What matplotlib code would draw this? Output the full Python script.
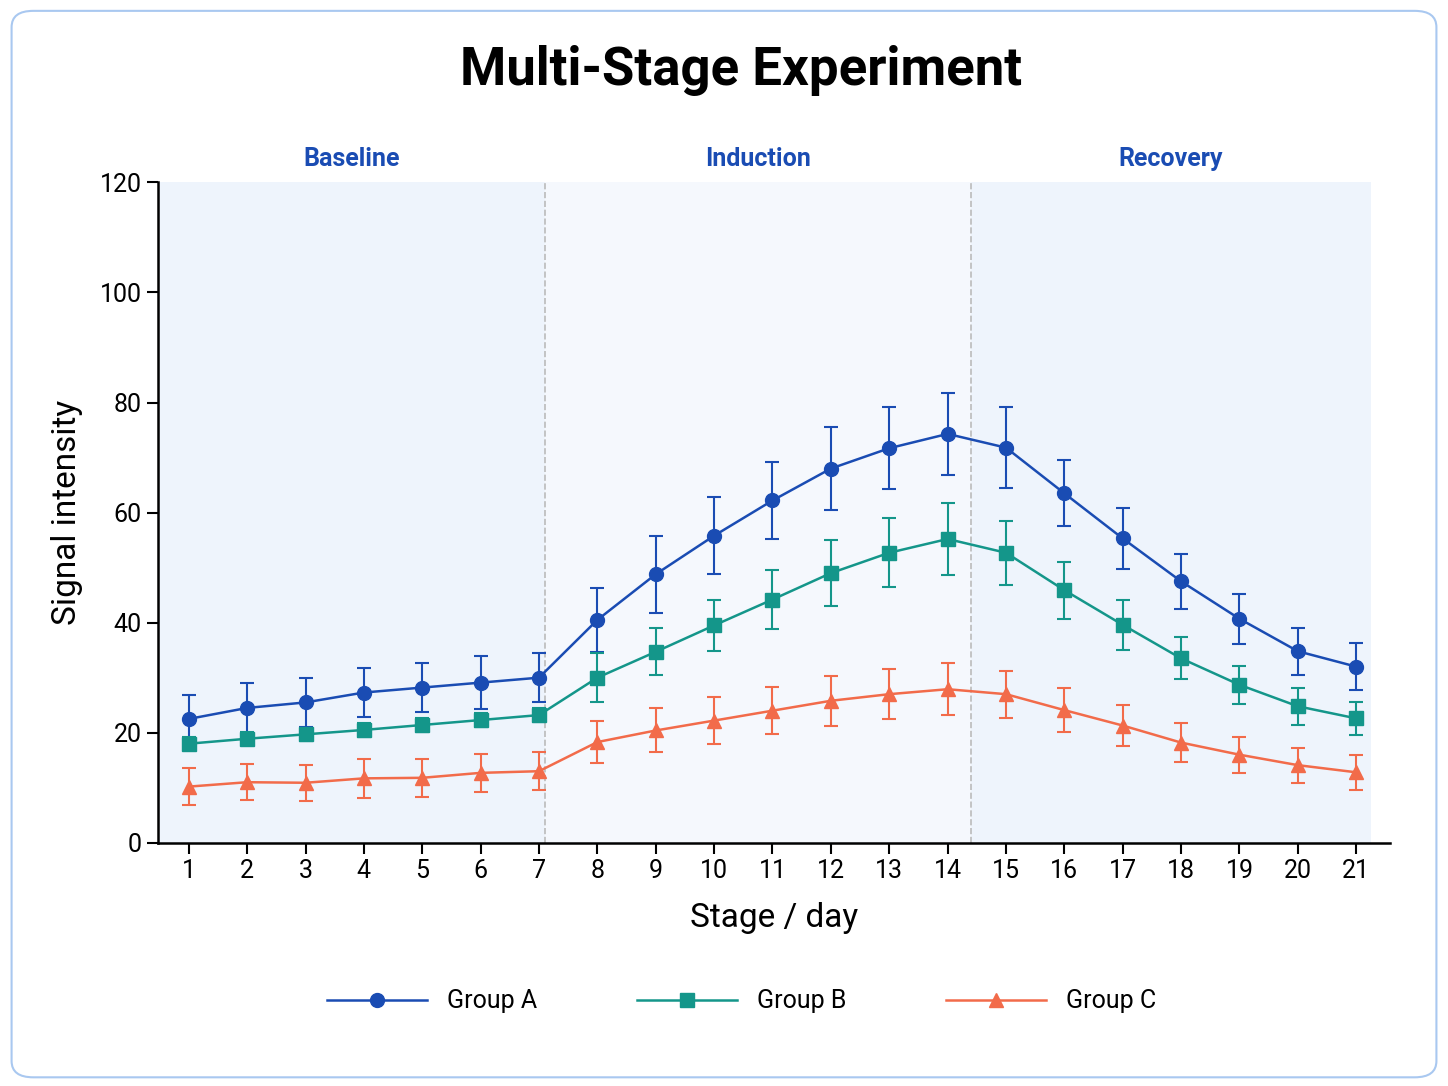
import matplotlib
matplotlib.use("Agg")
import matplotlib.pyplot as plt
from matplotlib.patches import FancyBboxPatch

days = list(range(1, 22))
group_a = [22.5, 24.5, 25.5, 27.3, 28.2, 29.1, 30.0, 40.5, 48.8, 55.8, 62.2, 68.0, 71.7, 74.3,
           71.8, 63.5, 55.3, 47.5, 40.7, 34.8, 32.0]
err_a = [4.3, 4.5, 4.5, 4.5, 4.5, 4.8, 4.5, 5.8, 7.0, 7.0, 7.0, 7.5, 7.5, 7.5,
         7.3, 6.0, 5.5, 5.0, 4.5, 4.3, 4.3]
group_b = [18.0, 18.9, 19.7, 20.5, 21.4, 22.3, 23.2, 30.0, 34.7, 39.5, 44.2, 49.0, 52.7, 55.2,
           52.7, 45.9, 39.6, 33.5, 28.7, 24.8, 22.6]
err_b = [1.2, 1.2, 1.2, 1.2, 1.2, 1.2, 1.2, 4.5, 4.3, 4.7, 5.3, 6.0, 6.3, 6.5,
         5.8, 5.2, 4.5, 3.8, 3.5, 3.4, 3.0]
group_c = [10.2, 11.0, 10.9, 11.7, 11.8, 12.7, 13.0, 18.3, 20.4, 22.2, 24.0, 25.8, 27.0, 27.9,
           27.0, 24.1, 21.3, 18.2, 16.0, 14.1, 12.8]
err_c = [3.3, 3.3, 3.3, 3.5, 3.5, 3.5, 3.5, 3.8, 4.0, 4.2, 4.3, 4.5, 4.5, 4.7,
         4.3, 4.0, 3.8, 3.5, 3.3, 3.2, 3.2]

stages = ["Baseline", "Induction", "Recovery"]
stage_bounds = [0.47, 7.1, 14.4, 21.25]
stage_fills = ["#eef4fc", "#f5f8fd", "#eef4fc"]

COLOR_A = "#1a4cb3"
COLOR_B = "#14968a"
COLOR_C = "#f26b4a"
plt.rcParams["font.family"] = ["Roboto", "DejaVu Sans"]

fig = plt.figure(figsize=(14.48, 10.86), dpi=100)
fig.patches.append(FancyBboxPatch((0.008, 0.008), 0.984, 0.982,
                                  boxstyle="round,pad=0,rounding_size=0.015",
                                  transform=fig.transFigure, fc="white", ec="#a9c8f0",
                                  lw=1.5, zorder=-5))
ax = fig.add_axes([0.109, 0.224, 0.851, 0.608])
ax.set_facecolor("none")

for i, name in enumerate(stages):
    lo, hi = stage_bounds[i], stage_bounds[i + 1]
    ax.axvspan(lo, hi, color=stage_fills[i], zorder=0, lw=0)
    ax.text((lo + hi) / 2, 122, name, ha="center", va="bottom", fontsize=18,
            fontweight="bold", color="#1a4cb3")
for b in stage_bounds[1:3]:
    ax.axvline(b, color="#bbbbbb", ls="--", lw=1.2, zorder=1)

kw = dict(lw=1.8, ms=10, capsize=5, elinewidth=1.5, capthick=1.5, zorder=3)
ax.errorbar(days, group_a, yerr=err_a, color=COLOR_A, marker="o", label="Group A", **kw)
ax.errorbar(days, group_b, yerr=err_b, color=COLOR_B, marker="s", label="Group B", **kw)
ax.errorbar(days, group_c, yerr=err_c, color=COLOR_C, marker="^", label="Group C", **kw)

ax.set_xlim(0.47, 21.58)
ax.set_ylim(0, 120)
ax.set_xticks(days)
ax.set_yticks(range(0, 121, 20))
ax.tick_params(labelsize=18, length=8, width=1.5)
for s in ["top", "right"]:
    ax.spines[s].set_visible(False)
for s in ["left", "bottom"]:
    ax.spines[s].set_linewidth(1.8)
ax.set_xlabel("Stage / day", fontsize=24, labelpad=14)
ax.set_ylabel("Signal intensity", fontsize=24, labelpad=12)
fig.text(0.512, 0.935, "Multi-Stage Experiment", ha="center", va="center",
         fontsize=38, fontweight="bold")
handles, labels = ax.get_legend_handles_labels()
fig.legend([h[0] for h in handles], labels, loc="center", bbox_to_anchor=(0.512, 0.078),
           ncol=3, frameon=False, fontsize=18, handlelength=4, columnspacing=4)

fig.savefig("out.png", dpi=100)
